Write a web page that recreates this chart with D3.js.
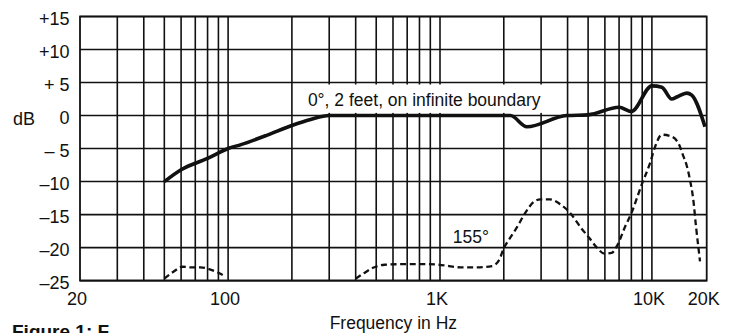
<!DOCTYPE html>
<html>
<head>
<meta charset="utf-8">
<script src="https://cdn.jsdelivr.net/npm/d3@7"></script>
<style>
  body { margin: 0; background: #fff; }
  text { font-family: "Liberation Sans", Arial, sans-serif; fill: #111; }
</style>
</head>
<body>
<div id="chart"></div>
<script>
const width = 730;
const height = 333;
const margin = ({top: 16.5, right: 23.3, left: 80, bottom: 52.4});

// 0 degrees, 2 feet, on infinite boundary
const onAxisFreq = [50, 60, 80, 100, 115, 152, 200, 245, 300, 2150, 2570, 3960, 5000, 7000, 8000, 10000, 11340, 12850, 13700, 15540, 16550, 19570];
const onAxisDb   = [-10, -8.2, -6.5, -5, -4.4, -3.0, -1.5, -0.6, 0, 0, -1.7, 0, 0.1, 1.26, 0.6, 4.5, 4.3, 2.5, 2.8, 3.4, 3.1, -1.7];

// 155 degrees (null = below the chart)
const rearFreq = [50, 55, 61, 67, 74, 82, 91, 97, 200,
                  400, 437, 480, 548, 700, 880, 1050, 1250, 1480, 1760, 1900, 2000, 2115, 2290, 2530, 2790, 2980, 3290, 3720,
                  4100, 4650, 5080, 5500, 5970, 6460, 6880, 7480, 8000, 8940, 9800, 10420, 11340, 12600, 13980, 14900, 15540,
                  16200, 16890, 17470, 17990, 18380];
const rearDb   = [-24.7, -23.7, -22.9, -23, -23, -23.3, -23.9, -24.4, null,
                  -24.7, -23.9, -23.1, -22.6, -22.5, -22.5, -22.7, -23, -23, -22.8, -21.9, -20.1, -18.8, -17.1, -14.7, -13, -12.7, -12.7, -13.5,
                  -14.7, -17.1, -18.6, -20, -20.9, -20.8, -19.6, -16.8, -14.8, -10.5, -7.2, -4.7, -2.9, -3.1, -4.2, -6.2, -7.6,
                  -9.8, -12.8, -16.8, -19.9, -22.1];

const yTicks = [15, 10, 5, 0, -5, -10, -15, -20, -25];
const yTickLabels = ["+15", "+10", "+ 5", "0", "\u2013 5", "\u201310", "\u201315", "\u201320", "\u201325"];
const xTicks = [20, 100, 1000, 10000, 20000];
const xTickLabels = ["20", "100", "1K", "10K", "20K"];
const gridDecades = [10, 100, 1000];

const onAxisLabel = {text: "0\u00b0, 2 feet, on infinite boundary", freq: 238, db: 1.4};
const rearLabel = {text: "155\u00b0", freq: 1150, db: -19.35};

const onAxisData = onAxisFreq.map((f, i) => ({f: f, db: onAxisDb[i]}));
const rearData = rearFreq.map((f, i) => ({f: f, db: rearDb[i]}));

const svg = d3.select("#chart")
              .append("svg")
              .attr("width", width)
              .attr("height", height);

// the 10K-20K octave is drawn a bit narrower than a true log scale
const x = d3.scaleLog()
            .domain([20, 10000, 20000])
            .range([margin.left, 651.9, width - margin.right]);

const y = d3.scaleLinear()
            .domain([-25, 15])
            .range([height - margin.bottom, margin.top]);

let gridFreqs = gridDecades.flatMap(d => d3.range(1, 10).map(m => d * m))
                           .filter(f => f > 20 && f < 10000)
                           .concat([10000]);

const grid = svg.append("g")
                .attr("stroke", "#111")
                .attr("stroke-width", 1.6);

grid.selectAll(".vgrid")
    .data(gridFreqs)
    .join("line")
    .attr("class", "vgrid")
    .attr("x1", d => x(d)).attr("x2", d => x(d))
    .attr("y1", y(15)).attr("y2", y(-25));

grid.selectAll(".hgrid")
    .data(yTicks)
    .join("line")
    .attr("class", "hgrid")
    .attr("x1", x(20)).attr("x2", x(20000))
    .attr("y1", d => y(d)).attr("y2", d => y(d));

svg.append("rect")
   .attr("x", x(20))
   .attr("y", y(15))
   .attr("width", x(20000) - x(20))
   .attr("height", y(-25) - y(15))
   .attr("fill", "none")
   .attr("stroke", "#111")
   .attr("stroke-width", 1.8);

// y axis labels
svg.append("g")
   .selectAll("text")
   .data(yTicks)
   .join("text")
   .attr("x", x(20) - 10.5)
   .attr("y", d => y(d) + 8.8)
   .attr("text-anchor", "end")
   .attr("font-size", 18)
   .text((d, i) => yTickLabels[i]);

svg.append("text")
   .attr("x", 13)
   .attr("y", y(0) + 9.2)
   .attr("font-size", 18)
   .text("dB");

// x axis labels
svg.append("g")
   .selectAll("text")
   .data(xTicks)
   .join("text")
   .attr("x", d => x(d) - 3)
   .attr("y", y(-25) + 24.5)
   .attr("text-anchor", "middle")
   .attr("font-size", 18)
   .text((d, i) => xTickLabels[i]);

svg.append("text")
   .attr("x", (x(20) + x(20000)) / 2)
   .attr("y", height - 4)
   .attr("text-anchor", "middle")
   .attr("font-size", 17.5)
   .text("Frequency in Hz");

svg.append("text")
   .attr("x", 12)
   .attr("y", height + 5)
   .attr("font-size", 19)
   .attr("font-weight", "bold")
   .text("Figure 1: F");

// curve labels
const labelG = svg.append("g");
const labelBox = labelG.append("rect").attr("fill", "#fff");
const labelText = labelG.append("text")
                        .attr("x", x(onAxisLabel.freq))
                        .attr("y", y(onAxisLabel.db))
                        .attr("font-size", 17.5)
                        .text(onAxisLabel.text);
const bb = labelText.node().getBBox();
labelBox.attr("x", bb.x - 5)
        .attr("y", y(4.7))
        .attr("width", bb.width + 9)
        .attr("height", y(0.4) - y(4.7));

svg.append("text")
   .attr("x", x(rearLabel.freq))
   .attr("y", y(rearLabel.db))
   .attr("font-size", 17.5)
   .text(rearLabel.text);

// curves
const line = d3.line()
               .defined(d => d.db !== null)
               .x(d => x(d.f))
               .y(d => y(d.db))
               .curve(d3.curveMonotoneX);

svg.append("path")
   .datum(rearData)
   .attr("d", line)
   .attr("fill", "none")
   .attr("stroke", "#111")
   .attr("stroke-width", 2.3)
   .attr("stroke-dasharray", "6,3.6");

svg.append("path")
   .datum(onAxisData)
   .attr("d", line)
   .attr("fill", "none")
   .attr("stroke", "#111")
   .attr("stroke-width", 3.6)
   .attr("stroke-linejoin", "round");
</script>
</body>
</html>
